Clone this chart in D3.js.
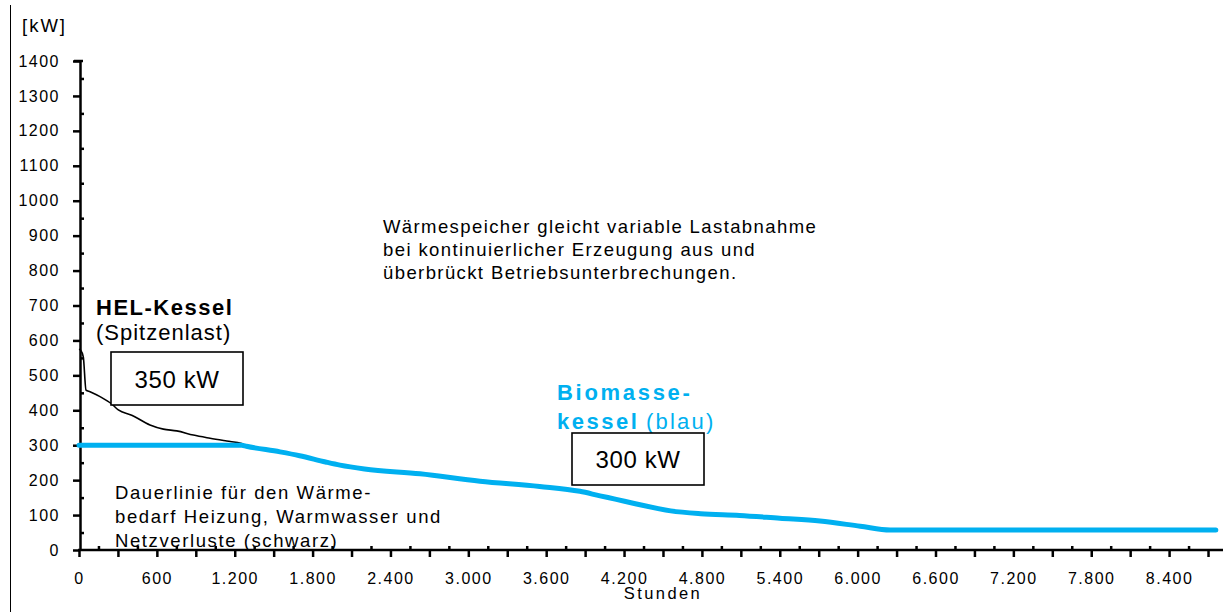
<!DOCTYPE html>
<html>
<head>
<meta charset="utf-8">
<script src="https://cdn.jsdelivr.net/npm/d3@7"></script>
<style>
  html, body { margin: 0; padding: 0; background: #fff; }
  svg { display: block; font-family: "Liberation Sans", Arial, sans-serif; }
</style>
</head>
<body>
<svg id="chart" width="1225" height="612"></svg>
<script>
// ---------- data ----------
const yTicks = [0, 100, 200, 300, 400, 500, 600, 700, 800, 900, 1000, 1100, 1200, 1300, 1400];
const xTicks = [0, 600, 1200, 1800, 2400, 3000, 3600, 4200, 4800, 5400, 6000, 6600, 7200, 7800, 8400];

// Dauerlinie (Wärmebedarf, schwarz)
const loadHours = [0, 13, 33, 54, 85, 162, 252, 303, 406, 547, 650, 753, 881, 1010, 1138, 1254, 1290, 1549, 1700, 1900, 2011, 2200, 2628, 3090, 3550, 3860, 4015, 4140, 4270, 4560, 4790, 5090, 5400, 5710, 6020, 6250, 8760];
const loadKW    = [575, 572, 553, 458, 453, 439, 418, 401, 386, 358, 346, 341, 329, 320, 312, 305, 297, 281, 270, 252, 243, 232, 218, 197, 182, 168, 155, 145, 134, 112, 104, 99, 91, 83, 68, 57, 57];

// Biomassekessel (blau)
const bioHours = [0, 1254, 1290, 1549, 1700, 1900, 2011, 2200, 2628, 3090, 3550, 3860, 4015, 4140, 4270, 4560, 4790, 5090, 5400, 5710, 6020, 6250, 8760];
const bioKW    = [300, 300, 297, 281, 270, 252, 243, 232, 218, 197, 182, 168, 155, 145, 134, 112, 104, 99, 91, 83, 68, 57, 57];

const blue = "#00B0F0";

// ---------- setup ----------
const svg = d3.select("#chart");
const x = d3.scaleLinear().domain([0, 8800]).range([79, 1221]);
const y = d3.scaleLinear().domain([0, 1400]).range([550, 61]);
const de = d3.formatLocale({decimal: ",", thousands: ".", grouping: [3], currency: ["", " €"]});
const fmtX = de.format(",");

// left frame line
svg.append("line").attr("x1", 10.5).attr("x2", 10.5).attr("y1", 5).attr("y2", 612)
  .attr("stroke", "#000").attr("stroke-width", 1);

// ---------- axes ----------
const axisStyle = g => {
  g.select(".domain").attr("stroke", "#000").attr("stroke-width", 2.5);
  g.selectAll(".tick line").attr("stroke", "#000").attr("stroke-width", 2.5);
  g.selectAll("text").attr("fill", "#000").style("font-size", "16px")
    .style("letter-spacing", "1.5px").attr("font-family", null);
};

// y axis major
const gy = svg.append("g").attr("transform", "translate(80,0)")
  .call(d3.axisLeft(y).tickValues(yTicks).tickSize(7).tickSizeOuter(0).tickPadding(13).tickFormat(d => d));
axisStyle(gy);
// y minor (inside)
const yMinor = d3.range(50, 1400, 100);
const gym = svg.append("g").attr("transform", "translate(80,0)")
  .call(d3.axisRight(y).tickValues(yMinor).tickSize(4).tickFormat(""));
gym.select(".domain").remove();
gym.selectAll(".tick line").attr("stroke", "#000").attr("stroke-width", 2.5);
// top cap of y-axis
svg.append("line").attr("x1", 74).attr("x2", 83).attr("y1", y(1400)).attr("y2", y(1400))
  .attr("stroke", "#000").attr("stroke-width", 2.5);

// x axis major ticks every 300 (down)
const xMajor = d3.range(0, 8800, 300);
const gx = svg.append("g").attr("transform", "translate(0,550)")
  .call(d3.axisBottom(x).tickValues(xMajor).tickSize(7).tickSizeOuter(0)
    .tickFormat(d => xTicks.includes(d) ? fmtX(d) : ""));
axisStyle(gx);
gx.select(".domain").attr("d", `M${x(0) - 1},0H1223`);
gx.selectAll("text").attr("dy", null).attr("y", 34);
// x minor ticks (up)
const xMinor = d3.range(150, 8800, 300);
const gxm = svg.append("g").attr("transform", "translate(0,550)")
  .call(d3.axisTop(x).tickValues(xMinor).tickSize(4).tickFormat(""));
gxm.select(".domain").remove();
gxm.selectAll(".tick line").attr("stroke", "#000").attr("stroke-width", 2.5);

// ---------- lines ----------
const loadData = loadHours.map((h, i) => [h, loadKW[i]]);
const bioData = bioHours.map((h, i) => [h, bioKW[i]]);
const line = d3.line().x(d => x(d[0])).y(d => y(d[1])).curve(d3.curveMonotoneX);

svg.append("path").datum(loadData).attr("d", line)
  .attr("fill", "none").attr("stroke", "#000").attr("stroke-width", 1.6)
  .attr("stroke-linejoin", "round");
svg.append("path").datum(bioData).attr("d", line)
  .attr("fill", "none").attr("stroke", blue).attr("stroke-width", 5)
  .attr("stroke-linecap", "round").attr("stroke-linejoin", "round");

// ---------- texts ----------
const txt = (s, xx, yy, opts = {}) => svg.append("text")
  .attr("x", xx).attr("y", yy).text(s)
  .style("font-size", (opts.size || 18.5) + "px")
  .style("letter-spacing", (opts.ls !== undefined ? opts.ls : 1.4) + "px")
  .style("font-weight", opts.bold ? "bold" : "normal")
  .attr("fill", opts.fill || "#000")
  .attr("text-anchor", opts.anchor || "start");

txt("[kW]", 22, 32, {size: 18.5, ls: 2});
txt("Stunden", 663, 599, {size: 16.5, ls: 2.4, anchor: "middle"});

txt("Wärmespeicher gleicht variable Lastabnahme", 383, 233);
txt("bei kontinuierlicher Erzeugung aus und", 383, 256);
txt("überbrückt Betriebsunterbrechungen.", 383, 279);

txt("Dauerlinie für den Wärme-", 115, 499, {ls: 1.6});
txt("bedarf Heizung, Warmwasser und", 115, 523, {ls: 1.6});
txt("Netzverluste (schwarz)", 115, 547, {ls: 1.6});

txt("HEL-Kessel", 96, 315, {size: 22, bold: true, ls: 1.5});
txt("(Spitzenlast)", 96, 340, {size: 22, ls: 1});

txt("Biomasse-", 557, 400, {size: 22, bold: true, ls: 2.7, fill: blue});
txt("kessel", 557, 429, {size: 22, bold: true, ls: 2.5, fill: blue});
txt("(blau)", 646, 429, {size: 22, ls: 2.2, fill: blue});

// boxes
const box = (x0, y0, w, h, label) => {
  svg.append("rect").attr("x", x0).attr("y", y0).attr("width", w).attr("height", h)
    .attr("fill", "#fff").attr("stroke", "#000").attr("stroke-width", 1.6);
  svg.append("text").attr("x", x0 + w / 2).attr("y", y0 + h / 2 + 9)
    .attr("text-anchor", "middle").style("font-size", "24px").style("letter-spacing", "0.6px")
    .text(label);
};
box(111, 352, 132, 53, "350 kW");
box(572, 433, 132, 52, "300 kW");
</script>
</body>
</html>
